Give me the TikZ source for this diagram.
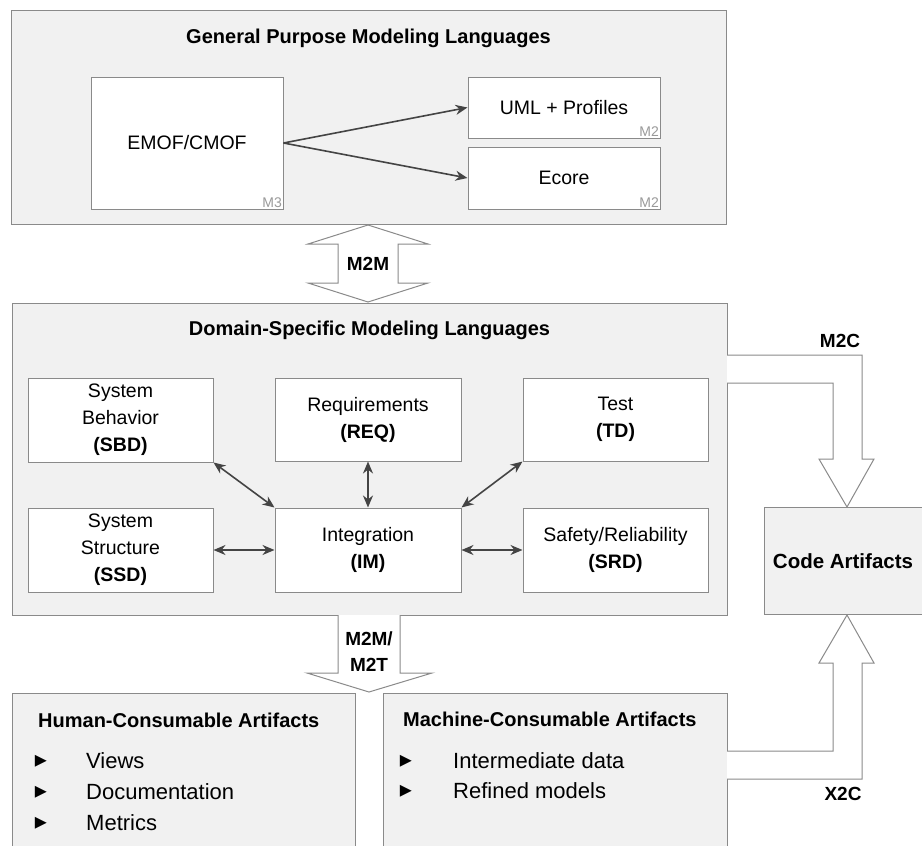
\documentclass[tikz,border=0pt]{standalone}
\usepackage{fontspec}
\setmainfont{Liberation Sans}
\newfontfamily\symfont{DejaVu Sans}
\usepackage{xcolor}
\usetikzlibrary{positioning,arrows.meta}

\definecolor{panelgray}{HTML}{F1F1F1}
\definecolor{edgegray}{HTML}{8A8A8A}
\definecolor{linkgray}{HTML}{444444}
\definecolor{levelgray}{HTML}{9A9A9A}

\tikzset{
  panel/.style={draw=edgegray, fill=panelgray, line width=1pt, inner sep=0pt},
  langbox/.style={draw=edgegray, fill=white, line width=1pt, inner sep=0pt, align=center, font=\fontsize{19.5}{27}\selectfont},
  paneltitle/.style={font=\bfseries\fontsize{20}{24}\selectfont, inner sep=0pt},
  level/.style={anchor=south east, inner sep=1.5pt, text=levelgray, font=\fontsize{14}{14}\selectfont},
  link/.style={draw=linkgray, line width=1.6pt, >={Stealth[length=12pt,width=10pt]}},
  blockarrow/.style={draw=edgegray, fill=white, line width=1pt, line join=miter},
  arrowlabel/.style={font=\bfseries\fontsize{19}{26}\selectfont, align=center, inner sep=0pt},
  itembullet/.style={anchor=base, inner sep=0pt, font=\symfont\fontsize{24}{24}\selectfont},
  itemtext/.style={anchor=base west, inner sep=0pt, font=\fontsize{22}{22}\selectfont}
}

\begin{document}
\begin{tikzpicture}[x=1pt, y=-1pt]
\clip (0,0) rectangle (922,846);

% general purpose languages
\node[panel, minimum width=715pt, minimum height=214pt] (gpml) at (368.5,117) {};
\node[paneltitle, anchor=base] (gpmltitle) at (368.5,43) {General Purpose Modeling Languages};
\node[langbox, minimum width=192pt, minimum height=132pt] (emof) at (187,143) {EMOF/CMOF};
\node[langbox, minimum width=192pt, minimum height=61pt] (uml) at (564,107.5) {UML + Profiles};
\node[langbox, minimum width=192pt, minimum height=62pt] (ecore) at (564,178) {Ecore};
\node[level] at (emof.south east) {M3};
\node[level] at (uml.south east) {M2};
\node[level] at (ecore.south east) {M2};
\draw[link, ->] (emof.east) -- (uml.west);
\draw[link, ->] (emof.east) -- (ecore.west);

% domain-specific languages
\node[panel, minimum width=715pt, minimum height=312pt] (dsml) at (369.5,459) {};
\node[paneltitle, anchor=base] (dsmltitle) at (369.5,335) {Domain-Specific Modeling Languages};
\node[langbox, minimum width=185pt, minimum height=84pt] (sbd) at (120.5,420) {System\\Behavior\\\textbf{(SBD)}};
\node[langbox, minimum width=186pt, minimum height=83pt] (req) at (368,419.5) {Requirements\\\textbf{(REQ)}};
\node[langbox, minimum width=185pt, minimum height=83pt] (td) at (615.5,419.5) {Test\\\textbf{(TD)}};
\node[langbox, minimum width=185pt, minimum height=84pt] (ssd) at (120.5,550) {System\\Structure\\\textbf{(SSD)}};
\node[langbox, minimum width=186pt, minimum height=84pt] (im) at (368,550) {Integration\\\textbf{(IM)}};
\node[langbox, minimum width=185pt, minimum height=84pt] (srd) at (615.5,550) {Safety/Reliability\\\textbf{(SRD)}};
\draw[link, <->] (sbd.south east) -- (im.north west);
\draw[link, <->] (req.south) -- (im.north);
\draw[link, <->] (td.south west) -- (im.north east);
\draw[link, <->] (ssd.east) -- (im.west);
\draw[link, <->] (im.east) -- (srd.west);

% code and consumable artifacts
\node[panel, minimum width=171pt, minimum height=107pt] (code) at (849.5,560.5) {};
\node[paneltitle, font=\bfseries\fontsize{20.5}{24}\selectfont] (codetitle) at (843,561) {Code Artifacts};
\node[panel, minimum width=343pt, minimum height=167pt] (human) at (183.5,776.5) {};
\node[panel, minimum width=344pt, minimum height=167pt] (machine) at (555,776.5) {};
\node[paneltitle, anchor=base west] (humantitle) at (38,727) {Human-Consumable Artifacts};
\node[paneltitle, anchor=base west] (machinetitle) at (403,726) {Machine-Consumable Artifacts};
\foreach \txt [count=\i] in {Views,Documentation,Metrics} {
  \node[itembullet] (hbullet\i) at (41,{767+31*(\i-1)}) {▸};
  \node[itemtext] (hitem\i) at (86,{768+31*(\i-1)}) {\txt};
}
\foreach \txt [count=\i] in {Intermediate data,Refined models} {
  \node[itembullet] (mbullet\i) at (406,{767+30*(\i-1)}) {▸};
  \node[itemtext] (mitem\i) at (453,{768+30*(\i-1)}) {\txt};
}

% transformations
\draw[blockarrow] (368,225) -- (308,244) -- (338,244) -- (338,283) -- (308,283) -- (368,302)
  -- (428,283) -- (398,283) -- (398,244) -- (428,244) -- cycle;
\node[arrowlabel] (m2m) at (368,264) {M2M};
\path[blockarrow] (338,615) -- (338,673) -- (307,673) -- (369,692) -- (432,673) -- (400,673) -- (400,615);
\node[arrowlabel] (m2t) at (369,652) {M2M/\\M2T};
\path[blockarrow] (727,355) -- (862,355) -- (862,459) -- (874,459) -- (847,507) -- (819,459)
  -- (833,459) -- (833,383) -- (727,383);
\node[arrowlabel] (m2c) at (840,341) {M2C};
\path[blockarrow] (727,779) -- (862,779) -- (862,663) -- (874,663) -- (847,615) -- (819,663)
  -- (833,663) -- (833,751) -- (727,751);
\node[arrowlabel] (x2c) at (843,794) {X2C};
\end{tikzpicture}
\end{document}
